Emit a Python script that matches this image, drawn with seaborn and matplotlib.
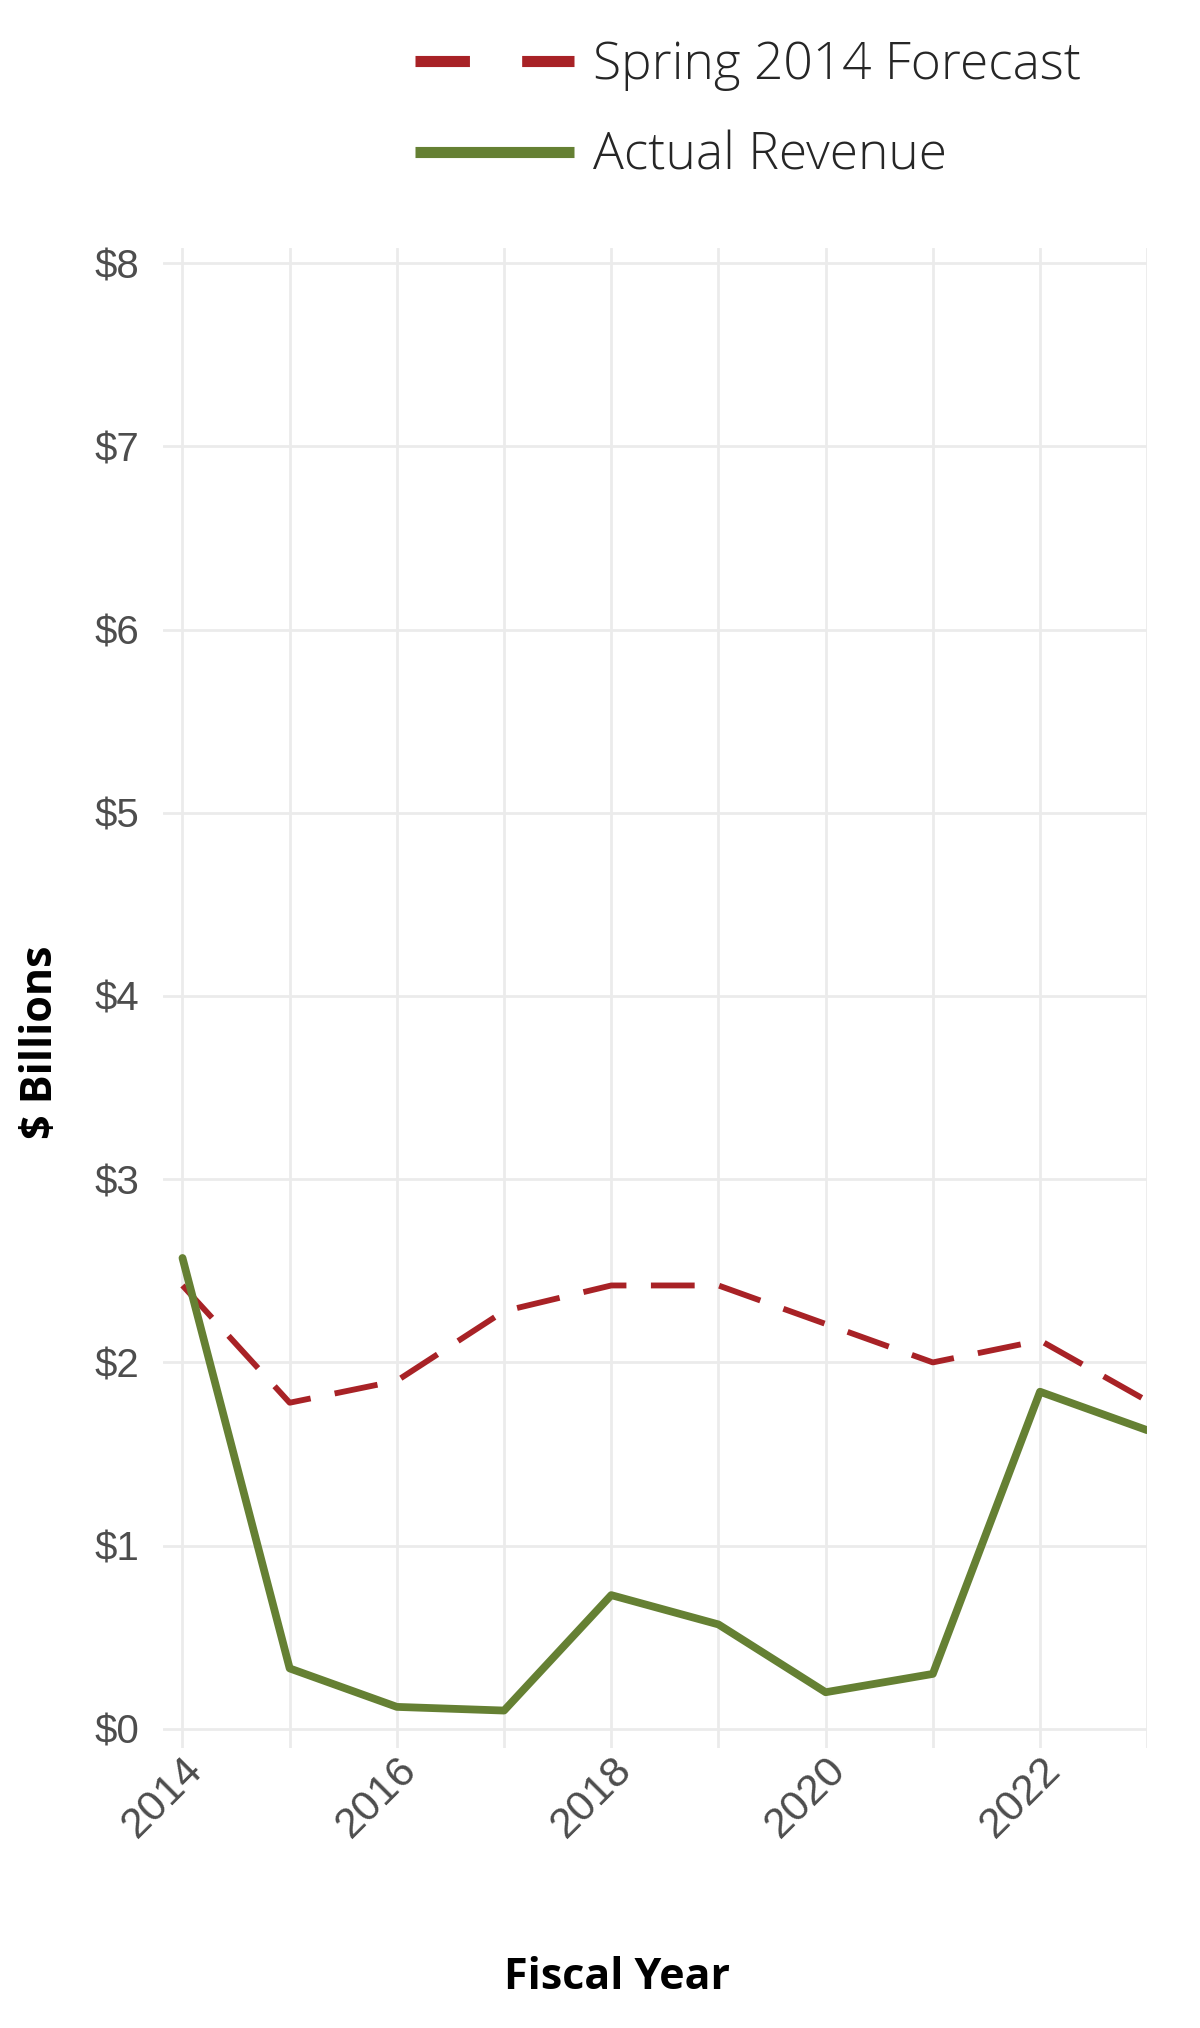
import matplotlib
matplotlib.use("Agg")
import pandas as pd
import matplotlib.pyplot as plt
import seaborn as sns
from matplotlib.lines import Line2D
from matplotlib.ticker import MultipleLocator, FuncFormatter

# data ($ billions)
years = list(range(2014, 2024))
forecast = [2.42, 1.78, 1.90, 2.28, 2.42, 2.42, 2.21, 2.00, 2.12, 1.79]
actual = [2.57, 0.33, 0.12, 0.10, 0.73, 0.57, 0.20, 0.30, 1.84, 1.63]
series_names = ["Spring 2014 Forecast", "Actual Revenue"]

red = "#A82226"
green = "#658033"
colors = {series_names[0]: red, series_names[1]: green}

df = pd.DataFrame({
    "Year": years + years,
    "Revenue": forecast + actual,
    "Series": [series_names[0]] * len(years) + [series_names[1]] * len(years),
})

sns.set_theme(style="whitegrid")
plt.rcParams['font.family'] = ['Liberation Sans', 'DejaVu Sans']

fig = plt.figure(figsize=(12, 20.28), dpi=100)
ax = fig.add_axes([0.136, 0.1381, 0.820, 0.7396])

sns.lineplot(data=df, x="Year", y="Revenue", hue="Series", size="Series",
             style="Series", palette=colors,
             sizes={series_names[0]: 4.2, series_names[1]: 5.6},
             dashes={series_names[0]: (7.5, 4.2), series_names[1]: ""},
             ax=ax, legend=False)

ax.set_xlim(2013.82, 2023)
ax.set_ylim(-0.104, 8.082)
ax.xaxis.set_major_locator(MultipleLocator(2))
ax.xaxis.set_minor_locator(MultipleLocator(1))
ax.yaxis.set_major_locator(MultipleLocator(1))
ax.yaxis.set_major_formatter(FuncFormatter(lambda v, p: f"${int(round(v))}"))

ax.set_facecolor("white")
ax.grid(False)
ax.grid(which="both", axis="x", color="#ebebeb", lw=2)
ax.grid(which="major", axis="y", color="#ebebeb", lw=2)
for s in ax.spines.values():
    s.set_visible(False)

ax.tick_params(axis="y", which="both", length=0, labelsize=29, labelcolor="#4d4d4d", pad=17)
ax.tick_params(axis="x", which="both", length=0, labelsize=31, labelcolor="#4d4d4d", pad=1)
for lab in ax.get_xticklabels():
    lab.set_rotation(45)
    lab.set_ha("right")
    lab.set_va("top")
    lab.set_rotation_mode("anchor")

ax.set_xlabel("")
ax.set_ylabel("")
fig.text(0.514, 0.0192, "Fiscal Year", ha="center", va="baseline",
         fontsize=31, fontweight="bold", family=["Open Sans", "DejaVu Sans"], color="black")
fig.text(0.034, 0.486, "$ Billions", ha="center", va="center", rotation=90,
         fontsize=31, fontweight="bold", family=["Open Sans", "DejaVu Sans"], color="black")

handles = [
    Line2D([], [], color=red, lw=8, dashes=(4.9, 4.7), dash_capstyle="butt"),
    Line2D([], [], color=green, lw=8, solid_capstyle="butt"),
]
fig.legend(handles, series_names, loc="center left",
           bbox_to_anchor=(415 / 1200, 0.9455), frameon=False,
           handlelength=3.1, handletextpad=0.37, labelspacing=0.77,
           borderpad=0, borderaxespad=0,
           prop={"family": "Open Sans", "weight": "light", "size": 37})

fig.savefig("out.png", dpi=100)
